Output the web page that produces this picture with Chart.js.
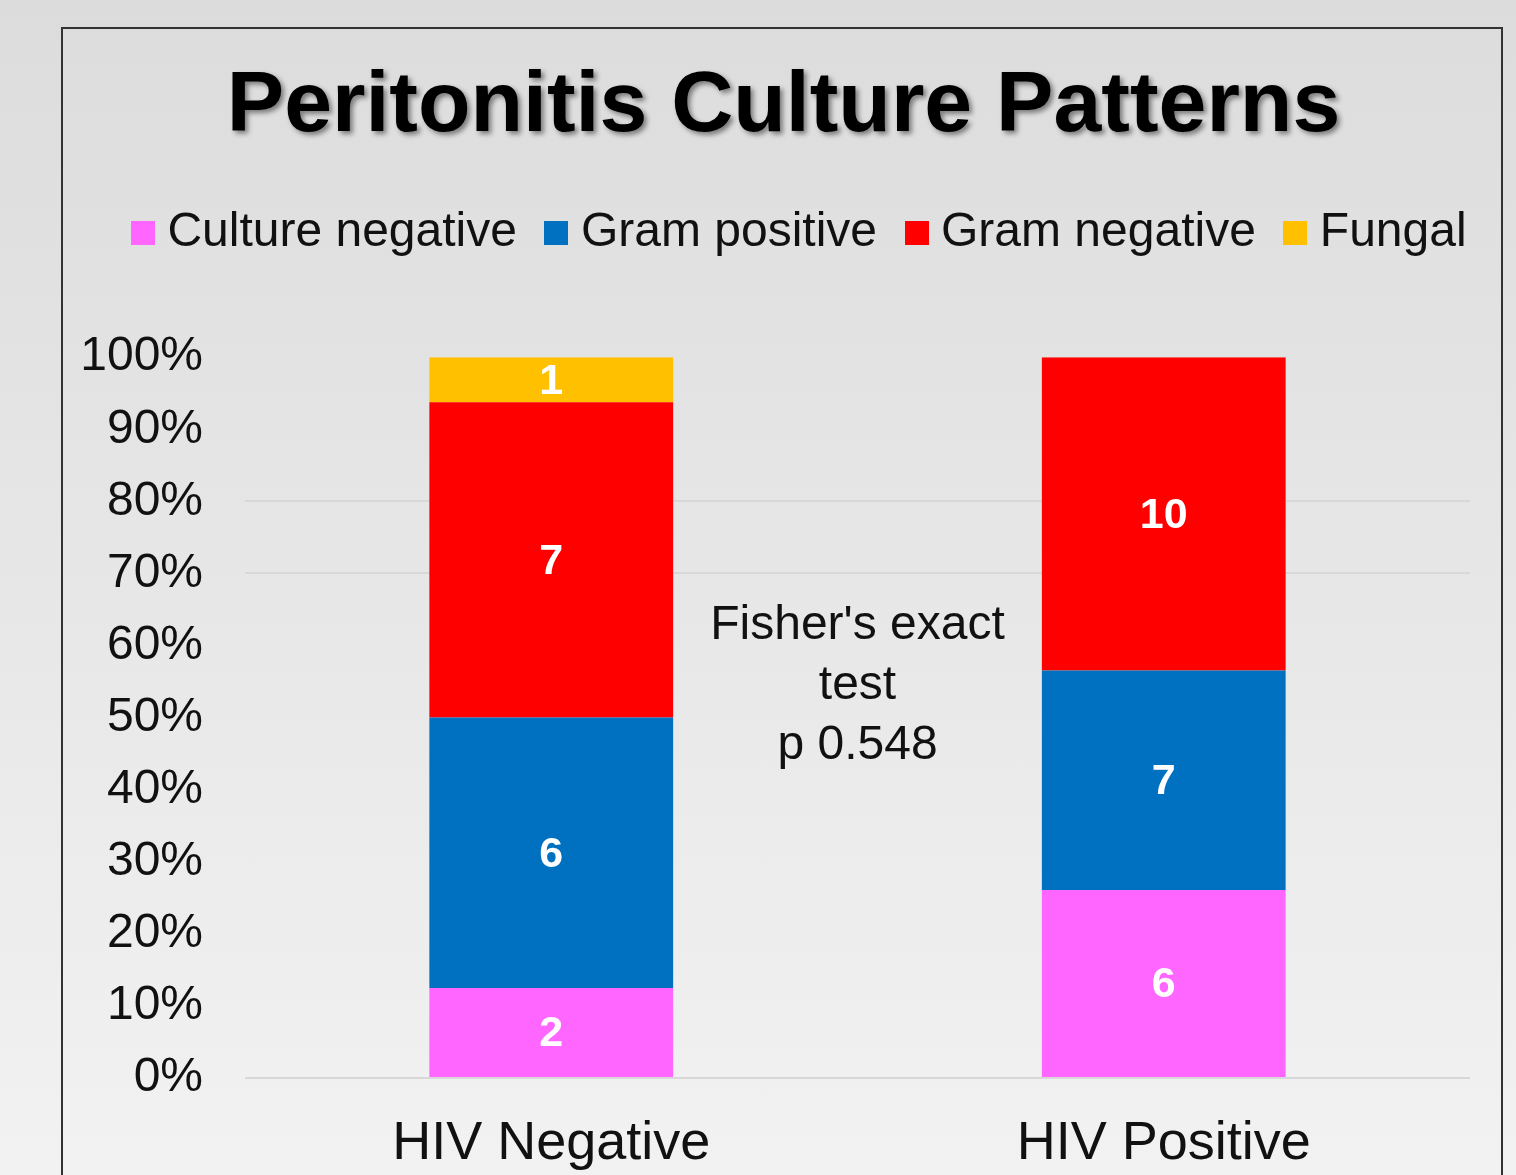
<!DOCTYPE html>
<html>
<head>
<meta charset="utf-8">
<script src="https://cdn.jsdelivr.net/npm/chart.js@4.4.1/dist/chart.umd.min.js"></script>
<style>
  html, body { margin: 0; padding: 0; overflow: hidden; }
  body { width: 1516px; height: 1175px; background: linear-gradient(#dcdcdc, #f2f2f2); position: relative; }
  #kotak { position: absolute; left: 61px; top: 27px; width: 1438px; height: 1200px; border: 2px solid #333; }
  canvas { display: block; }
</style>
</head>
<body>
<div id="kotak">
  <canvas id="grafik_kultur" width="1438" height="1150"></canvas>
</div>
<script>
// kategori dan jumlah kasus per pola kultur
var kategori = ["HIV Negative", "HIV Positive"];
var kultur_negatif = [2, 6];
var gram_positif = [6, 7];
var gram_negatif = [7, 10];
var jamur = [1, 0];
var label_sumbu_y = ["0%", "10%", "20%", "30%", "40%", "50%", "60%", "70%", "80%", "90%", "100%"];
var teks_uji = ["Fisher's exact", "test", "p 0.548"];

// total per kategori untuk grafik 100%
var total = kategori.map(function (_, i) {
  return kultur_negatif[i] + gram_positif[i] + gram_negatif[i] + jamur[i];
});
function persen(arr) {
  return arr.map(function (v, i) { return (v / total[i]) * 100; });
}

// kotak kecil legenda (gambar 24x24) supaya jarak ke teks lebih rapat
function kotakLegenda(warna) {
  const k = document.createElement("canvas");
  k.width = 24;
  k.height = 24;
  const c = k.getContext("2d");
  c.fillStyle = warna;
  c.fillRect(0, 0, 24, 24);
  return k;
}

const data = {
  labels: kategori,
  datasets: [
    { label: "Culture negative", data: persen(kultur_negatif), jumlah: kultur_negatif, backgroundColor: "#FF66FF", pointStyle: kotakLegenda("#FF66FF") },
    { label: "Gram positive", data: persen(gram_positif), jumlah: gram_positif, backgroundColor: "#0070C0", pointStyle: kotakLegenda("#0070C0") },
    { label: "Gram negative", data: persen(gram_negatif), jumlah: gram_negatif, backgroundColor: "#FF0000", pointStyle: kotakLegenda("#FF0000") },
    { label: "Fungal", data: persen(jamur), jumlah: jamur, backgroundColor: "#FFC000", pointStyle: kotakLegenda("#FFC000") },
  ],
};

// bayangan judul + jarak legenda
const aturTampilan = {
  id: "aturTampilan",
  afterInit(chart) {
    const judul = chart.titleBlock;
    const gambarJudul = judul.draw;
    judul.draw = function (area) {
      const c = chart.ctx;
      c.save();
      c.shadowColor = "rgba(0,0,0,0.45)";
      c.shadowBlur = 5;
      c.shadowOffsetX = 3;
      c.shadowOffsetY = 3;
      gambarJudul.call(this, area);
      c.restore();
    };
    const legenda = chart.legend;
    const fitAsli = legenda.fit;
    legenda.fit = function () {
      fitAsli.call(this);
      this.height += 90;
    };
  },
  afterLayout(chart) {
    chart.legend.left += 38;
    chart.legend.right += 38;
    chart.titleBlock.left += 17;
    chart.titleBlock.right += 17;
  },
};

// angka di tengah tiap segmen + teks uji statistik
const labelSegmen = {
  id: "labelSegmen",
  afterDatasetsDraw(chart) {
    const c = chart.ctx;
    c.save();
    c.fillStyle = "#ffffff";
    c.font = "bold 43px 'Liberation Sans', Arial, sans-serif";
    c.textAlign = "center";
    c.textBaseline = "middle";
    chart.data.datasets.forEach(function (ds, i) {
      chart.getDatasetMeta(i).data.forEach(function (bar, j) {
        if (!ds.jumlah[j]) return;
        c.fillText(String(ds.jumlah[j]), bar.x, (bar.y + bar.base) / 2 + 2);
      });
    });

    const sx = chart.scales.x;
    const sy = chart.scales.y;
    const xTengah = (sx.getPixelForValue(0) + sx.getPixelForValue(1)) / 2;
    const yTengah = sy.getPixelForValue(54.4);
    c.fillStyle = "#111111";
    c.font = "48px 'Liberation Sans', Arial, sans-serif";
    teks_uji.forEach(function (baris, k) {
      c.fillText(baris, xTengah, yTengah + (k - 1) * 60);
    });
    c.restore();
  },
};

const config = {
  type: "bar",
  data: data,
  plugins: [aturTampilan, labelSegmen],
  options: {
    responsive: false,
    animation: false,
    devicePixelRatio: 1,
    layout: { padding: { left: 0, right: 31, top: 0, bottom: 1 } },
    datasets: {
      bar: { barPercentage: 0.398, categoryPercentage: 1.0, borderWidth: 0 },
    },
    plugins: {
      title: {
        display: true,
        text: "Peritonitis Culture Patterns",
        color: "#000000",
        font: { family: "'Liberation Sans', Arial, sans-serif", size: 86, weight: "bold" },
        padding: { top: 27, bottom: 11 },
      },
      legend: {
        display: true,
        position: "top",
        labels: {
          usePointStyle: true,
          pointStyleWidth: 1,
          boxHeight: 24,
          padding: 39,
          color: "#111111",
          font: { family: "'Liberation Sans', Arial, sans-serif", size: 48 },
        },
      },
      tooltip: { enabled: false },
    },
    scales: {
      x: {
        stacked: true,
        grid: { display: false, drawTicks: false },
        border: { display: false },
        afterFit: function (sumbu) { sumbu.height = 100; },
        ticks: {
          color: "#111111",
          padding: 34,
          maxRotation: 0,
          font: { family: "'Liberation Sans', Arial, sans-serif", size: 54 },
        },
      },
      y: {
        stacked: true,
        min: 0,
        max: 100,
        border: { display: false },
        afterFit: function (sumbu) { sumbu.width = 182; },
        grid: {
          drawTicks: false,
          lineWidth: 2,
          color: function (ctx) {
            const v = ctx.tick ? ctx.tick.value : null;
            return v === 0 || v === 70 || v === 80 ? "#d8d8d8" : "rgba(0,0,0,0)";
          },
        },
        ticks: {
          stepSize: 10,
          padding: 42,
          color: "#111111",
          font: { family: "'Liberation Sans', Arial, sans-serif", size: 48 },
          callback: function (value) {
            return label_sumbu_y[Math.round(value / 10)];
          },
        },
      },
    },
  },
};

const grafik = document.getElementById("grafik_kultur").getContext("2d");
const grafik_kultur = new Chart(grafik, config);
</script>
</body>
</html>
